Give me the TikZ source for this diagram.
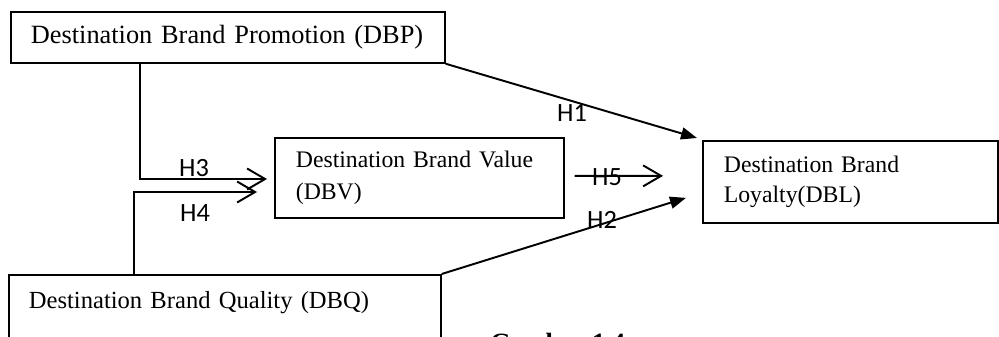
\documentclass[tikz,border=0pt]{standalone}
\usepackage{fontspec}
\setmainfont{Liberation Serif}
\newfontfamily\hfont{Carlito}
\usepackage{tikz}
\usetikzlibrary{arrows.meta, positioning, calc}

\begin{document}
\begin{tikzpicture}[
    x=0.02cm, y=-0.02cm,
    construct/.style={rectangle, draw, line width=1pt, anchor=north west, inner ysep=0pt, inner xsep=0.42cm, align=left},
    hyp/.style={font=\hfont\fontsize{15}{18}\selectfont, inner sep=0pt},
    arrow/.style={-{Triangle[length=0.32cm, width=0.24cm]}, line width=1.1pt},
    openarrow/.style={-{Straight Barb[length=0.36cm, width=0.42cm]}, line width=1.1pt}
]
\clip (0,0) rectangle (999,337);
\node[construct, inner xsep=0.4cm, minimum width=8.68cm, minimum height=1.02cm, text width=7.88cm, font=\fontsize{15}{18}\selectfont] (dbp) at (10,11) {Destination Brand Promotion (DBP)};
\node[construct, minimum width=5.78cm, minimum height=1.6cm, text width=4.94cm, font=\fontsize{13.5}{18.2}\selectfont] (dbv) at (274,137) {Destination Brand Value\\(DBV)};
\node[construct, minimum width=5.9cm, minimum height=1.64cm, text width=5.06cm, font=\fontsize{13.5}{17}\selectfont] (dbl) at (702,140) {Destination Brand\\Loyalty(DBL)};
\node[construct, inner xsep=0.4cm, minimum width=8.64cm, text width=7.84cm, text height=0.68cm, text depth=1cm, font=\fontsize{14}{17}\selectfont] (dbq) at (8,274) {Destination Brand Quality (DBQ)};
% arrow ends
\coordinate (h1end) at ($(dbl.north west)+(-5,-2)$);
\coordinate (h2end) at ($(dbl.west)+(-16,16)$);
\coordinate (h3end) at ($(dbv.north west)+(-7,42)$);
\coordinate (h4end) at ($(dbv.north west)+(-17,55)$);
\coordinate (h5end) at ($(dbl.west)+(-39,-6)$);
\draw[arrow] (dbp.south east) -- (h1end);
\draw[arrow] (dbq.north east) -- (h2end);
\draw[openarrow] ($(dbp.south west)+(130,0)$) |- (h3end);
\draw[openarrow] ($(dbq.north west)+(126,0)$) |- (h4end);
\draw[openarrow] ($(dbv.east)+(10,-2)$) -- (h5end);
\node[hyp] (h1) at (572,113) {H1};
\node[hyp] (h2) at (602,220) {H2};
\node[hyp] (h3) at (194,168) {H3};
\node[hyp] (h4) at (195,213) {H4};
\node[hyp] (h5) at (607,177) {H5};
\node[font=\bfseries\fontsize{15}{18}\selectfont, anchor=north west, inner sep=0pt] (caption) at (490,333) {Gambar 1.4};
\end{tikzpicture}
\end{document}
